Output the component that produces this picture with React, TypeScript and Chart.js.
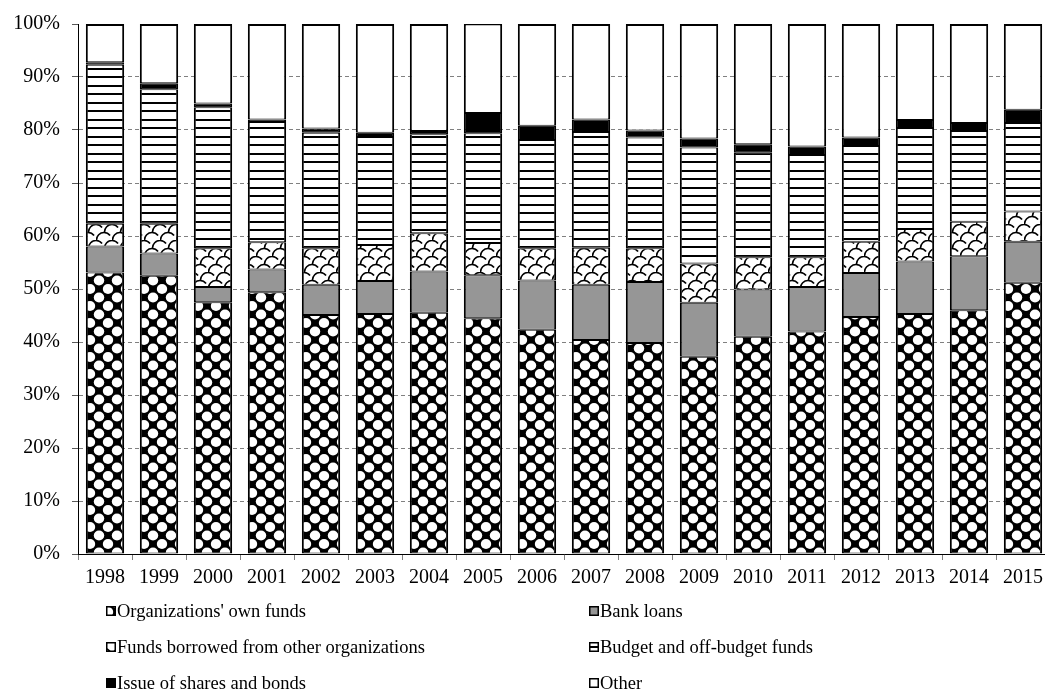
import React, { useEffect, useRef } from 'react';
import { Chart, registerables } from 'chart.js';

Chart.register(...registerables);

// Structure of investment sources by year, % of total
const years = ['1998', '1999', '2000', '2001', '2002', '2003', '2004', '2005', '2006', '2007', '2008', '2009', '2010', '2011', '2012', '2013', '2014', '2015'];
const ownFunds = [53.1, 52.5, 47.5, 49.4, 45.1, 45.3, 45.5, 44.5, 42.3, 40.4, 39.8, 37.2, 41.0, 42.0, 44.7, 45.3, 46.0, 51.2];
const bankLoans = [4.9, 4.2, 2.9, 4.3, 5.7, 6.2, 7.8, 8.1, 9.3, 10.4, 11.5, 10.2, 8.9, 8.4, 8.3, 9.9, 10.2, 7.7];
const borrowedFunds = [4.3, 5.6, 7.3, 5.1, 6.9, 6.8, 7.2, 6.1, 6.1, 7.0, 6.4, 7.4, 6.1, 5.6, 5.9, 6.1, 6.5, 5.7];
const budgetFunds = [30.0, 25.4, 26.6, 22.7, 21.8, 20.4, 18.7, 20.7, 20.4, 21.8, 20.9, 21.9, 19.7, 19.3, 18.1, 19.1, 17.1, 16.7];
const sharesBonds = [0.5, 1.1, 0.7, 0.5, 0.8, 0.8, 0.6, 3.8, 2.7, 2.4, 1.3, 1.7, 1.6, 1.6, 1.6, 1.5, 1.5, 2.5];
const otherSources = [7.2, 11.2, 15.0, 18.0, 19.7, 20.5, 20.2, 16.9, 19.2, 18.0, 20.1, 21.6, 22.7, 23.1, 21.4, 18.1, 18.7, 16.2];
const seriesLabels = [
  "Organizations' own funds",
  'Bank loans',
  'Funds borrowed from other organizations',
  'Budget and off-budget funds',
  'Issue of shares and bonds',
  'Other',
];
const yTicks = [0, 10, 20, 30, 40, 50, 60, 70, 80, 90, 100];

const SERIF = '"Liberation Serif", "Times New Roman", serif';

function makeTile(w: number, h: number, draw: (g: CanvasRenderingContext2D) => void): CanvasPattern {
  const c = document.createElement('canvas');
  c.width = w;
  c.height = h;
  const g = c.getContext('2d')!;
  draw(g);
  return g.createPattern(c, 'repeat')!;
}

// white round blobs on a black lattice
function dotsPattern() {
  return makeTile(18, 17, (g) => {
    g.fillStyle = '#000';
    g.fillRect(0, 0, 18, 17);
    g.fillStyle = '#fff';
    const centers = [[0, 0], [18, 0], [0, 17], [18, 17], [9, 8.5]];
    for (const [cx, cy] of centers) {
      g.beginPath();
      g.ellipse(cx, cy, 5.2, 5.0, 0, 0, Math.PI * 2);
      g.fill();
    }
  });
}

// curved shingle lines
function shinglePattern() {
  return makeTile(16, 16, (g) => {
    g.fillStyle = '#fff';
    g.fillRect(0, 0, 16, 16);
    g.strokeStyle = '#000';
    g.lineWidth = 1.6;
    const arcs = [[8, 16], [0, 8], [16, 8], [8, 0]];
    for (const [cx, cy] of arcs) {
      g.beginPath();
      g.arc(cx, cy, 7.5, Math.PI * 1.0, Math.PI * 1.8);
      g.stroke();
    }
  });
}

// horizontal stripes
function stripePattern() {
  return makeTile(8, 17, (g) => {
    g.fillStyle = '#fff';
    g.fillRect(0, 0, 8, 17);
    g.fillStyle = '#000';
    g.fillRect(0, 0, 8, 2);
    g.fillRect(0, 8, 8, 2);
  });
}

const legendPlugin = {
  id: 'twoColumnLegend',
  afterDraw(chart: any) {
    const ctx: CanvasRenderingContext2D = chart.ctx;
    const colX = [106, 589];
    const rowY0 = 611;
    const rowStep = 36;
    const box = 10;
    ctx.save();
    ctx.font = `18.5px ${SERIF}`;
    ctx.textBaseline = 'middle';
    ctx.textAlign = 'left';
    chart.data.datasets.forEach((ds: any, i: number) => {
      const x = colX[i % 2];
      const y = rowY0 + Math.floor(i / 2) * rowStep;
      ctx.fillStyle = ds.backgroundColor;
      ctx.fillRect(x, y - box / 2, box, box);
      ctx.strokeStyle = '#000';
      ctx.lineWidth = 1.5;
      ctx.strokeRect(x + 0.75, y - box / 2 + 0.75, box - 1.5, box - 1.5);
      ctx.fillStyle = '#000';
      ctx.fillText(ds.label, x + box + 1, y + 1);
    });
    ctx.restore();
  },
};

export default function App() {
  const ref = useRef<HTMLCanvasElement>(null);

  useEffect(() => {
    const canvas = ref.current!;
    const fills = [dotsPattern(), '#969696', shinglePattern(), stripePattern(), '#000000', '#ffffff'];
    const values = [ownFunds, bankLoans, borrowedFunds, budgetFunds, sharesBonds, otherSources];

    const datasets = values.map((data, i) => ({
      label: seriesLabels[i],
      data,
      backgroundColor: fills[i],
      borderColor: '#000',
      borderWidth: {
        left: 2,
        right: 2,
        top: i === values.length - 1 ? 2 : 1,
        bottom: 1,
      },
      borderSkipped: false as const,
      categoryPercentage: 1,
      barPercentage: 0.71,
    }));

    const chart = new Chart(canvas, {
      type: 'bar',
      data: { labels: years, datasets },
      options: {
        responsive: false,
        animation: false,
        devicePixelRatio: 1,
        layout: { padding: { top: 24, right: 0, bottom: 101, left: 0 } },
        plugins: {
          legend: { display: false },
          tooltip: { enabled: false },
        },
        scales: {
          x: {
            stacked: true,
            afterFit: (s: any) => { s.height = 40; },
            grid: {
              offset: true,
              drawOnChartArea: false,
              drawTicks: true,
              tickLength: 6,
              tickColor: '#808080',
            },
            border: { color: '#000', width: 1 },
            ticks: {
              color: '#000',
              padding: 6,
              maxRotation: 0,
              autoSkip: false,
              font: { family: SERIF, size: 20 },
            },
          },
          y: {
            stacked: true,
            min: 0,
            max: 100,
            afterFit: (s: any) => { s.width = 78; },
            afterBuildTicks: (s: any) => { s.ticks = yTicks.map((v) => ({ value: v })); },
            grid: {
              color: (c: any) => (c.tick && c.tick.value === 100 ? 'rgba(0,0,0,0)' : '#808080'),
              tickColor: '#595959',
              tickLength: 6,
              lineWidth: 1,
            },
            border: { color: '#000', width: 1, dash: [4, 3] },
            ticks: {
              color: '#000',
              padding: 12,
              font: { family: SERIF, size: 20 },
              callback: (v: any) => `${v}%`,
            },
          },
        },
      },
      plugins: [legendPlugin],
    });

    return () => chart.destroy();
  }, []);

  return (
    <div style={{ position: 'fixed', left: 0, top: 0, right: 0, bottom: 0, overflow: 'hidden', background: '#fff' }}>
      <canvas ref={ref} width={1050} height={695} style={{ display: 'block', width: 1050, height: 695 }} />
    </div>
  );
}
